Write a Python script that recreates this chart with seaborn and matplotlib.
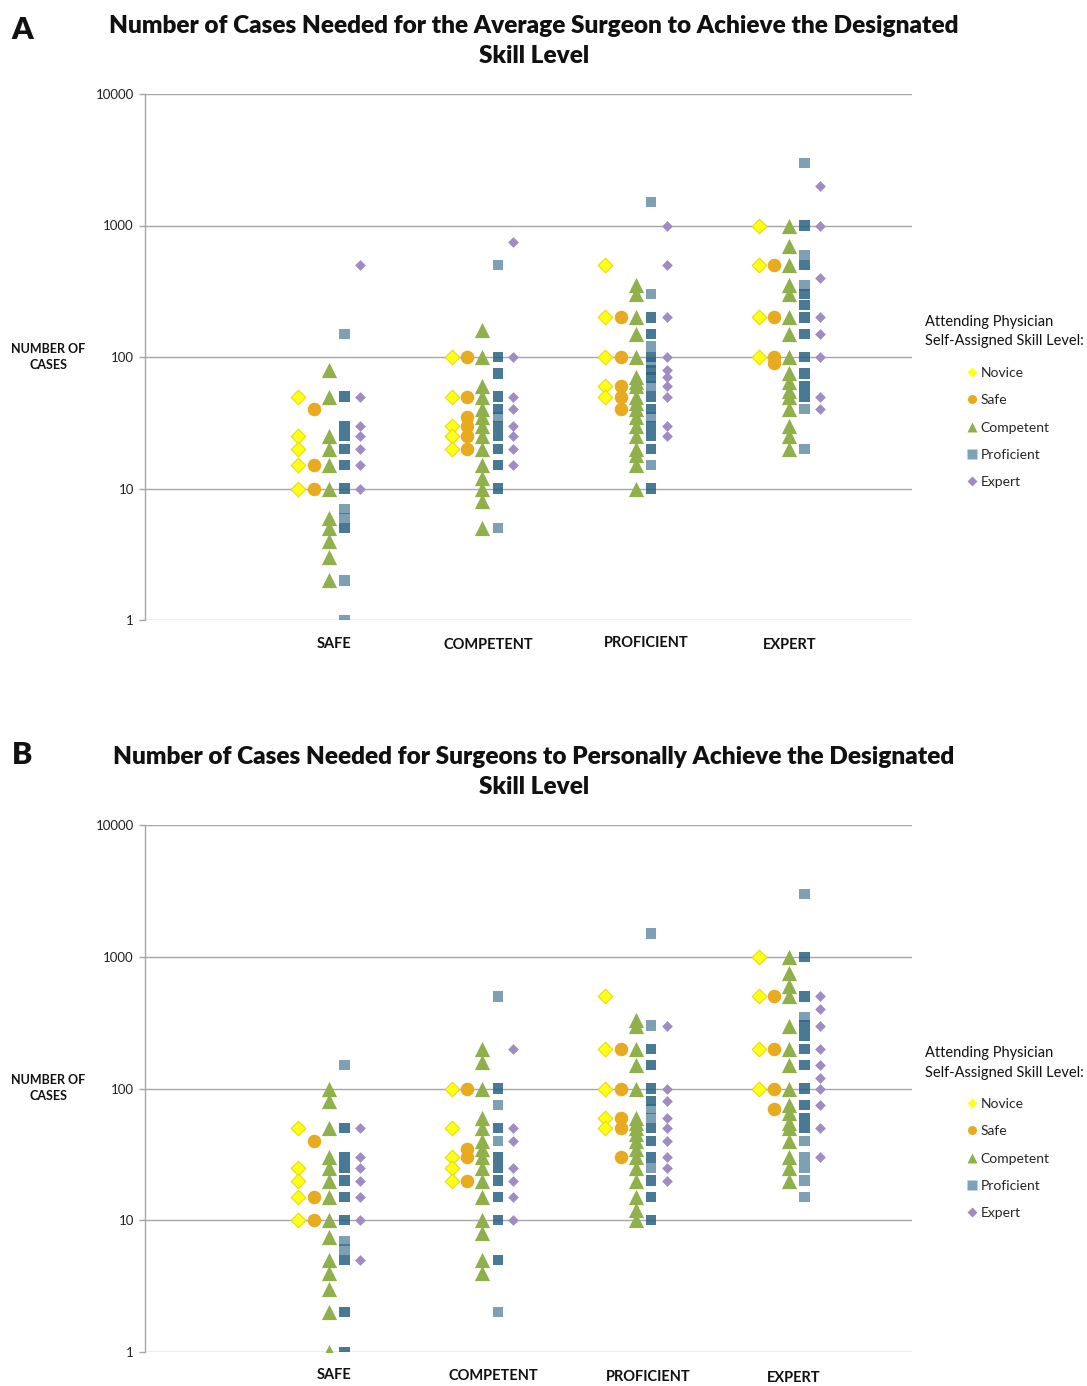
import numpy as np
import pandas as pd
import seaborn as sns
import matplotlib
matplotlib.use("Agg")
import matplotlib.pyplot as plt
from matplotlib.lines import Line2D
from matplotlib.ticker import FixedLocator, FixedFormatter, NullLocator

# ---------------- data ----------------
CATEGORIES = ["SAFE", "COMPETENT", "PROFICIENT", "EXPERT"]
SERIES = ["Novice", "Safe", "Competent", "Proficient", "Expert"]
YTICKS = [1, 10, 100, 1000, 10000]
YTICK_LABELS = ["1", "10", "100", "1000", "10000"]

TITLE_A = "Number of Cases Needed for the Average Surgeon to Achieve the Designated\nSkill Level"
TITLE_B = "Number of Cases Needed for Surgeons to Personally Achieve the Designated\nSkill Level"

# Panel A: one list per target category (SAFE, COMPETENT, PROFICIENT, EXPERT)
A_NOVICE = [[50, 25, 20, 15, 10],
            [100, 50, 30, 25, 20],
            [500, 200, 100, 60, 50],
            [1000, 500, 200, 100]]
A_SAFE = [[40, 15, 10],
          [100, 50, 35, 30, 25, 20],
          [200, 100, 60, 50, 40],
          [500, 200, 100, 90]]
A_COMPETENT = [[80, 50, 25, 20, 15, 10, 6, 5, 4, 3, 2],
               [160, 100, 60, 50, 40, 35, 30, 25, 20, 15, 12, 10, 8, 5],
               [350, 300, 200, 150, 100, 70, 65, 60, 50, 45, 40, 35, 30, 25, 20, 18, 15, 10],
               [1000, 700, 500, 350, 300, 200, 150, 100, 75, 65, 55, 50, 40, 30, 25, 20]]
A_PROFICIENT = [[150, 50, 50, 30, 30, 25, 25, 20, 20, 15, 15, 10, 10, 7, 6, 5, 5, 2, 1],
                [500, 100, 100, 75, 75, 50, 50, 40, 40, 35, 30, 30, 25, 25, 20, 20, 15, 15, 10, 10, 5],
                [1500, 300, 200, 200, 150, 150, 120, 100, 100, 90, 80, 80, 70, 70, 60, 50, 50,
                 40, 40, 35, 30, 30, 25, 25, 20, 20, 15, 10, 10],
                [3000, 1000, 1000, 600, 500, 500, 350, 300, 300, 250, 250, 200, 200, 150, 150,
                 100, 100, 75, 75, 60, 60, 50, 50, 40, 20]]
A_EXPERT = [[500, 50, 30, 25, 20, 15, 10],
            [750, 100, 50, 40, 30, 25, 20, 15],
            [1000, 500, 200, 100, 80, 70, 60, 50, 30, 25],
            [2000, 1000, 400, 200, 150, 100, 50, 40]]

# Panel B
B_NOVICE = [[50, 25, 20, 15, 10],
            [100, 50, 30, 25, 20],
            [500, 200, 100, 60, 50],
            [1000, 500, 200, 100]]
B_SAFE = [[40, 15, 10],
          [100, 35, 30, 20],
          [200, 100, 60, 50, 30],
          [500, 200, 100, 70]]
B_COMPETENT = [[100, 80, 50, 30, 25, 20, 15, 10, 7.5, 5, 4, 3, 2, 1],
               [200, 160, 100, 60, 50, 40, 35, 30, 25, 20, 15, 10, 8, 5, 4],
               [330, 300, 200, 150, 100, 60, 55, 50, 45, 40, 35, 30, 25, 20, 15, 12, 10],
               [1000, 750, 600, 500, 300, 200, 150, 100, 75, 65, 55, 50, 40, 30, 25, 20]]
B_PROFICIENT = [[150, 50, 50, 30, 30, 25, 25, 20, 20, 15, 15, 10, 10, 7, 6, 5, 5, 2, 2, 1, 1],
                [500, 100, 100, 75, 50, 50, 40, 30, 30, 25, 25, 20, 20, 15, 15, 10, 10, 5, 5, 2],
                [1500, 300, 200, 200, 150, 150, 100, 100, 80, 80, 70, 60, 50, 50, 40, 40,
                 30, 30, 25, 20, 20, 15, 15, 10, 10],
                [3000, 1000, 1000, 500, 500, 350, 300, 300, 250, 250, 200, 200, 150, 150,
                 100, 100, 75, 75, 60, 60, 50, 50, 40, 30, 25, 20, 15]]
B_EXPERT = [[50, 30, 25, 20, 15, 10, 5],
            [200, 50, 40, 25, 20, 15, 10],
            [300, 100, 80, 60, 50, 40, 30, 25, 20],
            [500, 400, 300, 200, 150, 120, 100, 75, 50, 30]]

# ---------------- styling ----------------
COLORS = {"Novice": "#ffff1a", "Safe": "#e8aa1e", "Competent": "#8fb04a",
          "Proficient": "#266182", "Expert": "#9f8cc4"}
EDGES = {"Novice": "#e8dc00", "Safe": "#e8aa1e", "Competent": "#8fb04a",
         "Proficient": "none", "Expert": "#9f8cc4"}
MARKERS = {"Novice": "D", "Safe": "o", "Competent": "^", "Proficient": "s", "Expert": "D"}
SIZES = {"Novice": 55, "Safe": 95, "Competent": 120, "Proficient": 55, "Expert": 30}
ALPHAS = {"Novice": 1.0, "Safe": 1.0, "Competent": 1.0, "Proficient": 0.6, "Expert": 1.0}
OFFSETS = {"Novice": 0.0, "Safe": 0.1, "Competent": 0.2, "Proficient": 0.3, "Expert": 0.4}

FONT = ["Lato", "DejaVu Sans"]
sns.set_theme(style="white")
plt.rcParams["font.family"] = FONT

W, H = 1087, 1386
fig = plt.figure(figsize=(W / 100, H / 100), dpi=100)


def fx(px):
    return px / W


def fy(py):
    return 1 - py / H


def build_frame(panel_lists):
    rows = []
    for s, lists in zip(SERIES, panel_lists):
        for ci, vals in enumerate(lists):
            for v in vals:
                rows.append({"series": s, "x": ci + 1 + OFFSETS[s], "cases": v})
    return pd.DataFrame(rows)


def draw_panel(ax, df, title, letter, title_y, letter_y, label_ys, label_xs):
    ax.set_yscale("log")
    for y in YTICKS:
        ax.axhline(y, color="#a6a6a6", lw=1.0, zorder=0)
    for s in SERIES:
        d = df[df["series"] == s]
        sns.scatterplot(data=d, x="x", y="cases", ax=ax, marker=MARKERS[s],
                        color=COLORS[s], s=SIZES[s], alpha=ALPHAS[s],
                        edgecolor=EDGES[s], linewidth=0.8 if s == "Novice" else 0,
                        legend=False, zorder=3)
    ax.set_xlim(0, 5)
    ax.set_ylim(1, 10000)
    ax.yaxis.set_major_locator(FixedLocator(YTICKS))
    ax.yaxis.set_major_formatter(FixedFormatter(YTICK_LABELS))
    ax.yaxis.set_minor_locator(NullLocator())
    ax.set_xticks([])
    ax.set_xlabel("")
    ax.set_ylabel("")
    for sp in ["top", "right", "bottom"]:
        ax.spines[sp].set_visible(False)
    ax.spines["left"].set_color("#a6a6a6")
    ax.spines["left"].set_linewidth(1.0)
    ax.tick_params(axis="y", which="major", length=4, width=1, color="#a6a6a6",
                   labelsize=9.5, labelcolor="#222222", pad=4, left=True)
    ax.set_facecolor("white")
    fig.text(fx(534), fy(title_y), title, ha="center", va="center",
             fontsize=17.6, fontweight="heavy", color="#111111", linespacing=1.45)
    fig.text(fx(22), fy(letter_y), letter, ha="center", va="center",
             fontsize=22, fontweight="heavy", color="#111111")
    fig.text(fx(48), fy(label_ys[0]), "NUMBER OF\nCASES", ha="center", va="center",
             fontsize=9, fontweight="bold", color="#111111", linespacing=1.4)
    for cat, lx, ly in zip(CATEGORIES, label_xs, label_ys[1]):
        fig.text(fx(lx), fy(ly), cat, ha="center", va="center",
                 fontsize=10.5, fontweight="bold", color="#111111")


def draw_legend(top_py):
    fig.text(fx(925), fy(top_py), "Attending Physician\nSelf-Assigned Skill Level:",
             ha="left", va="top", fontsize=10.5, color="#111111", linespacing=1.5)
    handles = []
    for s in SERIES:
        ms = {"Novice": 5.5, "Safe": 6.5, "Competent": 6.5, "Proficient": 6.5, "Expert": 5.5}[s]
        handles.append(Line2D([], [], linestyle="none", marker=MARKERS[s],
                              markerfacecolor=COLORS[s] if s != "Proficient" else "#7ca3b9",
                              markeredgecolor="none", markersize=ms))
    fig.legend(handles, SERIES, loc="upper left",
               bbox_to_anchor=(fx(968), fy(top_py + 52)), frameon=False,
               fontsize=10, handlelength=0.6, handletextpad=0.3,
               labelspacing=1.1, borderpad=0, borderaxespad=0)


axA = fig.add_axes([fx(145), fy(620), fx(912) - fx(145), fy(94) - fy(620)])
axB = fig.add_axes([fx(145), fy(1352), fx(912) - fx(145), fy(825) - fy(1352)])

dfA = build_frame([A_NOVICE, A_SAFE, A_COMPETENT, A_PROFICIENT, A_EXPERT])
dfB = build_frame([B_NOVICE, B_SAFE, B_COMPETENT, B_PROFICIENT, B_EXPERT])

draw_panel(axA, dfA, TITLE_A, "A", 41, 30, (357, [644, 645, 643, 645]), [334, 488, 646, 790])
draw_panel(axB, dfB, TITLE_B, "B", 772, 755, (1088, [1375, 1376, 1377, 1378]), [334, 493, 648, 794])

draw_legend(315)
draw_legend(1046)

fig.savefig("out.png", dpi=100, facecolor="white")
